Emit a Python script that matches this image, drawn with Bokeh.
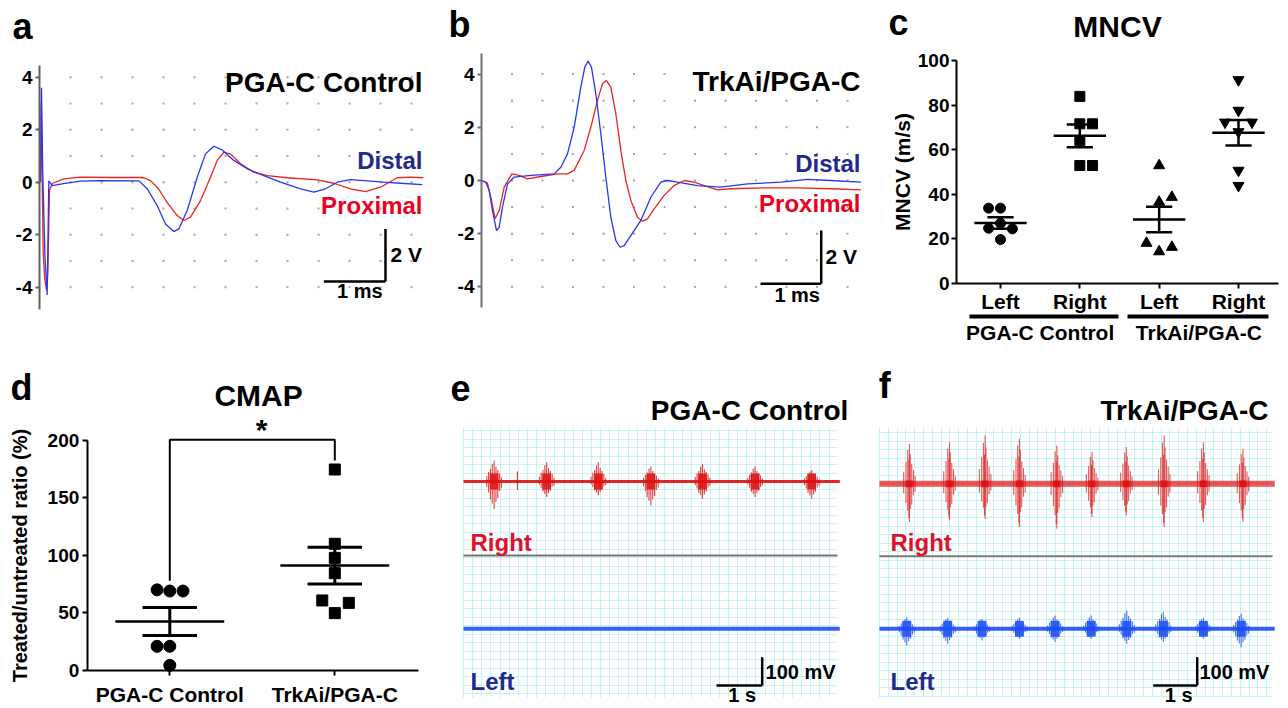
import numpy as np
from bokeh.plotting import figure
from bokeh.models import Range1d, FixedTicker, SingleIntervalTicker, Grid, Label, LinearAxis
from bokeh.layouts import row, column
from bokeh.embed import file_html
from bokeh.resources import INLINE

FONT = "Liberation Sans"

# ---------------- data: panel a (time ms, voltage V) ----------------
a_distal_t = [0.016, 0.032, 0.053, 0.089, 0.124, 0.150, 0.205, 0.387, 0.661, 0.984, 1.602, 1.737, 1.898, 2.032,
              2.166, 2.247, 2.382, 2.544, 2.677, 2.811, 2.947, 3.134, 3.350, 3.618, 3.887, 4.210, 4.424, 4.613,
              4.802, 5.016, 5.285, 5.553, 5.823, 6.173]
a_distal_v = [0.0, 3.6, 0.3, -2.9, -4.3, 0.05, -0.13, -0.05, 0.04, 0.06, 0.05, -0.25, -0.89, -1.59, -1.88, -1.78,
              -1.08, 0.19, 1.08, 1.37, 1.23, 0.83, 0.51, 0.25, 0.0, -0.25, -0.38, -0.25, 0.0, 0.1, 0.05, 0.0,
              -0.04, -0.09]
a_prox_t = [0.016, 0.027, 0.060, 0.085, 0.113, 0.134, 0.161, 0.205, 0.392, 0.661, 1.198, 1.629, 1.682, 1.790,
            1.919, 2.065, 2.221, 2.327, 2.435, 2.597, 2.758, 2.866, 2.973, 3.081, 3.242, 3.456, 3.673, 3.995,
            4.479, 4.747, 5.016, 5.258, 5.500, 5.769, 5.984, 6.189]
a_prox_v = [0.0, 3.05, -2.72, -3.67, -4.1, -3.48, -0.32, -0.05, 0.13, 0.19, 0.18, 0.18, 0.17, 0.06, -0.25, -0.8,
            -1.27, -1.46, -1.33, -0.70, 0.19, 0.83, 1.14, 1.08, 0.70, 0.38, 0.25, 0.17, 0.09, -0.04, -0.25, -0.36,
            -0.19, 0.17, 0.19, 0.17]

# ---------------- data: panel b ----------------
b_distal_t = [0.0, 0.071, 0.126, 0.180, 0.246, 0.290, 0.344, 0.426, 0.536, 0.809, 1.191, 1.301, 1.410, 1.519,
              1.628, 1.694, 1.749, 1.803, 1.874, 1.956, 2.038, 2.120, 2.202, 2.273, 2.339, 2.448, 2.612, 2.776,
              2.940, 3.049, 3.213, 3.541, 3.923, 4.361, 4.907, 5.344, 5.727, 6.219]
b_distal_v = [0.0, -0.06, -0.38, -1.13, -1.88, -1.76, -1.0, -0.13, 0.13, 0.19, 0.25, 0.5, 1.0, 2.0, 3.51, 4.26,
              4.49, 4.26, 3.26, 1.76, 0.13, -1.38, -2.26, -2.51, -2.45, -2.07, -1.50, -0.63, -0.06, 0.0, -0.06,
              -0.19, -0.25, -0.13, -0.06, 0.04, 0.0, -0.06]
b_prox_t = [0.0, 0.098, 0.164, 0.224, 0.290, 0.372, 0.497, 0.617, 0.754, 0.973, 1.246, 1.410, 1.519, 1.683,
            1.792, 1.902, 1.984, 2.049, 2.120, 2.202, 2.284, 2.366, 2.448, 2.557, 2.639, 2.721, 2.831, 2.995,
            3.158, 3.322, 3.486, 3.650, 3.869, 4.087, 4.634, 5.180, 5.727, 6.219]
b_prox_v = [0.0, -0.1, -0.75, -1.44, -1.13, -0.25, 0.25, 0.19, 0.06, 0.15, 0.25, 0.25, 0.38, 1.13, 2.0, 3.01,
            3.64, 3.76, 3.51, 2.51, 1.13, 0.0, -0.75, -1.38, -1.53, -1.44, -1.07, -0.56, -0.19, 0.0, -0.06,
            -0.19, -0.35, -0.31, -0.28, -0.28, -0.31, -0.35]

# ---------------- data: panel c (MNCV, m/s) ----------------
c_tick_labels = ["Left", "Right", "Left", "Right"]
c_group_labels = ["PGA-C Control", "TrkAi/PGA-C"]
c_pga_left = [33.8, 33.8, 27.0, 24.8, 24.5, 19.7]
c_pga_left_dx = [-0.15, 0.0, 0.0, -0.15, 0.15, 0.0]
c_pga_right = [83.9, 71.6, 71.6, 64.0, 52.9, 52.9]
c_pga_right_dx = [0.0, 0.0, 0.16, 0.0, 0.0, 0.16]
c_trk_left = [52.9, 38.7, 36.5, 18.1, 14.3, 16.3]
c_trk_left_dx = [0.0, 0.16, 0.0, -0.16, 0.0, 0.16]
c_trk_right = [91.3, 77.6, 72.3, 72.3, 68.0, 50.7, 43.9]
c_trk_right_dx = [0.0, 0.0, -0.17, 0.17, 0.0, 0.0, 0.0]
c_means = [27.1, 66.2, 28.7, 67.6]
c_sems = [2.6, 5.1, 5.7, 5.7]

# ---------------- data: panel d (CMAP, %) ----------------
d_tick_labels = ["PGA-C Control", "TrkAi/PGA-C"]
d_pga = [70.0, 69.0, 69.0, 21.0, 21.0, 4.5]
d_pga_dx = [-0.077, 0.0, 0.08, -0.077, 0.0, 0.0]
d_trk = [174.5, 110.0, 97.8, 84.5, 60.8, 58.7, 49.8]
d_trk_dx = [0.0, 0.0, 0.0, 0.0, -0.076, 0.085, 0.0]
d_means = [42.5, 91.1]
d_sems = [12.1, 15.9]

# ---------------- data: panels e/f (EMG bursts: time s, amplitude mV) ----------------
e_right_t = [0.67, 1.82, 2.95, 4.10, 5.23, 6.38, 7.62]
e_right_up = [74, 68, 68, 53, 62, 53, 41]
e_right_down = [97, 55, 49, 85, 61, 55, 61]
e_right_spike_t = [1.18]
e_right_spike_up = [35]
e_right_spike_down = [29]

f_right_t = [0.68, 1.59, 2.40, 3.18, 4.03, 4.83, 5.61, 6.47, 7.36, 8.26]
f_right_up = [141, 147, 171, 159, 135, 112, 130, 171, 147, 124]
f_right_down = [135, 130, 124, 153, 159, 118, 112, 153, 135, 135]
f_left_t = [0.62, 1.55, 2.33, 3.18, 3.99, 4.81, 5.62, 6.45, 7.36, 8.22]
f_left_up = [41, 39, 35, 39, 47, 47, 65, 59, 39, 53]
f_left_down = [59, 53, 41, 35, 47, 35, 53, 47, 35, 65]

# ---------------- styles ----------------
RED = "#ee2222"
BLUE = "#2a35f0"
NAVY = "#1f2a8c"
LRED = "#e8001e"
EMG_RED = "#dd1111"
EMG_BLUE = "#1d4ff5"
GRIDC = "#c6f2f6"
BASE_SHIFT = 0.35   # visual correction for alphabetic baseline, in font-size units


def base_fig(w, h, xr, yr, **kw):
    p = figure(width=w, height=h, x_range=Range1d(*xr), y_range=Range1d(*yr),
               output_backend="svg", toolbar_location=None,
               min_border_left=0, min_border_right=0, min_border_top=0, min_border_bottom=0, **kw)
    p.outline_line_color = None
    p.background_fill_color = "white"
    p.border_fill_color = "white"
    p.xgrid.visible = False
    p.ygrid.visible = False
    return p


def style_axis(ax, size, color="black", lw=2, tick_out=5, standoff=3):
    ax.major_label_text_font = FONT
    ax.major_label_text_font_style = "bold"
    ax.major_label_text_font_size = size
    ax.major_label_text_color = "black"
    ax.axis_line_color = color
    ax.axis_line_width = lw
    ax.major_tick_line_color = color
    ax.major_tick_line_width = lw
    ax.major_tick_in = 0
    ax.major_tick_out = tick_out
    ax.minor_tick_line_color = None
    ax.major_label_standoff = standoff
    ax.axis_label_text_font = FONT
    ax.axis_label_text_font_style = "bold"
    ax.axis_label_text_color = "black"


def texter(p, ppu):
    def txt(x, y, text, size, color="black", align="left"):
        p.add_layout(Label(x=x, y=y + BASE_SHIFT * size / ppu, text=text, text_font=FONT,
                           text_font_style="bold", text_font_size=f"{size}px", text_color=color,
                           text_align=align, text_baseline="alphabetic"))
    return txt


def dot_grid(p):
    gx, gy = np.meshgrid(np.arange(0.5, 6.01, 0.5), np.arange(-4, 4.01, 1.0))
    p.scatter(gx.ravel(), gy.ravel(), marker="square", size=2, color="#a5a5a5", line_color=None)


VOLT_TICKS = [-4, -2, 0, 2, 4]
VOLT_LABELS = {t: str(t) for t in VOLT_TICKS}

# ================= panel a =================
pa = base_fig(430, 350, (-0.629, 6.306), (-6.411, 6.922), x_axis_location=None)
ya = pa.yaxis[0]
style_axis(ya, "19px", color="#606060", lw=2, tick_out=4, standoff=3)
ya.ticker = FixedTicker(ticks=VOLT_TICKS)
ya.major_label_overrides = VOLT_LABELS
ya.fixed_location = 0
ya.bounds = (-4.84, 4.46)
dot_grid(pa)
pa.line(a_prox_t, a_prox_v, color=RED, line_width=1.3)
pa.line(a_distal_t, a_distal_v, color=BLUE, line_width=1.3)
ta = texter(pa, 26.25)
ta(-0.435, 5.47, "a", 36)
ta(6.177, 3.43, "PGA-C Control", 28, align="right")
ta(6.177, 0.51, "Distal", 24, color=NAVY, align="right")
ta(6.177, -1.2, "Proximal", 24, color=LRED, align="right")
pa.segment(x0=[4.586, 5.58], y0=[-3.78, -3.78], x1=[5.58, 5.58], y1=[-3.78, -1.78], color="black", line_width=2.5)
ta(5.66, -3.05, "2 V", 21)
ta(5.166, -4.42, "1 ms", 20, align="center")

# ================= panel b =================
pb = base_fig(440, 350, (-0.836, 6.377), (-6.391, 6.767), x_axis_location=None)
yb = pb.yaxis[0]
style_axis(yb, "19px", color="#707070", lw=2, tick_out=4, standoff=3)
yb.ticker = FixedTicker(ticks=VOLT_TICKS)
yb.major_label_overrides = VOLT_LABELS
yb.fixed_location = 0
yb.bounds = (-4.77, 4.77)
dot_grid(pb)
pb.line(b_prox_t, b_prox_v, color=RED, line_width=1.3)
pb.line(b_distal_t, b_distal_v, color=BLUE, line_width=1.3)
tb = texter(pb, 26.6)
tb(-0.54, 5.38, "b", 36)
tb(6.213, 3.36, "TrkAi/PGA-C", 28, align="right")
tb(6.213, 0.31, "Distal", 24, color=NAVY, align="right")
tb(6.213, -1.19, "Proximal", 24, color=LRED, align="right")
pb.segment(x0=[4.574, 5.569], y0=[-3.88, -3.88], x1=[5.569, 5.569], y1=[-3.88, -1.88], color="black", line_width=2.5)
tb(5.64, -3.13, "2 V", 21)
tb(5.175, -4.57, "1 ms", 20, align="center")

# ================= panel c =================
pc = base_fig(418, 350, (-0.6387, 4.6304), (-30.04, 126.9))
xc = pc.xaxis[0]
yc = pc.yaxis[0]
style_axis(xc, "21px", tick_out=5, standoff=1)
style_axis(yc, "19px", tick_out=5, standoff=2)
xc.ticker = FixedTicker(ticks=[1, 2, 3, 4])
xc.major_label_overrides = {i + 1: lab for i, lab in enumerate(c_tick_labels)}
xc.fixed_location = 0
xc.bounds = (0.445, 4.504)
yc.ticker = FixedTicker(ticks=[0, 20, 40, 60, 80, 100])
yc.fixed_location = 0.445
yc.bounds = (0, 100)
yc.axis_label = "MNCV (m/s)"
yc.axis_label_text_font_size = "21px"
yc.axis_label_standoff = 1

xg = LinearAxis(ticker=FixedTicker(ticks=[1.5, 3.5]),
                major_label_overrides={1.5: c_group_labels[0], 3.5: c_group_labels[1]})
style_axis(xg, "21px", tick_out=0, standoff=2)
xg.axis_line_color = None
xg.major_tick_line_color = None
xg.fixed_location = -16.1
pc.add_layout(xg, "below")

c_sets = [(c_pga_left, c_pga_left_dx, "circle", 10),
          (c_pga_right, c_pga_right_dx, "square", 10),
          (c_trk_left, c_trk_left_dx, "triangle", 11),
          (c_trk_right, c_trk_right_dx, "inverted_triangle", 11)]
for i, (vals, dx, mk, sz) in enumerate(c_sets):
    pc.scatter([i + 1 + d for d in dx], vals, marker=mk, size=sz, color="black")
cx = np.arange(1, 5)
cm = np.array(c_means)
cs = np.array(c_sems)
pc.segment(x0=cx - 0.33, y0=cm, x1=cx + 0.33, y1=cm, color="black", line_width=2.5)
pc.segment(x0=cx - 0.165, y0=cm + cs, x1=cx + 0.165, y1=cm + cs, color="black", line_width=2.5)
pc.segment(x0=cx - 0.165, y0=cm - cs, x1=cx + 0.165, y1=cm - cs, color="black", line_width=2.5)
pc.segment(x0=cx, y0=cm - cs, x1=cx, y1=cm + cs, color="black", line_width=2.5)
pc.segment(x0=[0.609, 2.601], y0=[-14.8, -14.8], x1=[2.487, 4.378], y1=[-14.8, -14.8], color="black",
           line_width=4, line_cap="butt")
tc = texter(pc, 2.23)
tc(-0.412, 111.2, "c", 36)
tc(2.475, 110.4, "MNCV", 30, align="center")

# ================= panel d =================
pd_ = base_fig(440, 358, (-0.0261, 2.6406), (-32.99, 277.8))
xd = pd_.xaxis[0]
yd = pd_.yaxis[0]
style_axis(xd, "21px", tick_out=5, standoff=8)
style_axis(yd, "19px", tick_out=5, standoff=3)
xd.ticker = FixedTicker(ticks=[1, 2])
xd.major_label_overrides = {1: d_tick_labels[0], 2: d_tick_labels[1]}
xd.fixed_location = 0
xd.bounds = (0.5, 2.507)
yd.ticker = FixedTicker(ticks=[0, 50, 100, 150, 200])
yd.fixed_location = 0.5
yd.bounds = (0, 200)
yd.axis_label = "Treated/untreated ratio (%)"
yd.axis_label_text_font_size = "20px"
yd.axis_label_standoff = 14
pd_.scatter([1 + d for d in d_pga_dx], d_pga, marker="circle", size=12, color="black")
pd_.scatter([2 + d for d in d_trk_dx], d_trk, marker="square", size=11, color="black")
dx_ = np.array([1, 2])
dm = np.array(d_means)
ds = np.array(d_sems)
pd_.segment(x0=dx_ - 0.33, y0=dm, x1=dx_ + 0.33, y1=dm, color="black", line_width=2.5)
pd_.segment(x0=dx_ - 0.165, y0=dm + ds, x1=dx_ + 0.165, y1=dm + ds, color="black", line_width=3)
pd_.segment(x0=dx_ - 0.165, y0=dm - ds, x1=dx_ + 0.165, y1=dm - ds, color="black", line_width=3)
pd_.segment(x0=dx_, y0=dm - ds, x1=dx_, y1=dm + ds, color="black", line_width=3)
pd_.line([1, 1, 2, 2], [78, 200.3, 200.3, 182.3], color="black", line_width=2)
td = texter(pd_, 1.152)
td(1.556, 200, "*", 30, align="center")
td(1.538, 230, "CMAP", 30, align="center")
td(0.035, 234.4, "d", 36)


# ================= EMG helpers =================
BLOB_POS = [-1.0, -0.75, -0.5, -0.25, 0.0, 0.25, 0.5, 0.75, 1.0]
BLOB_UP = [0.25, 0.45, 0.6, 0.85, 1.0, 0.7, 0.55, 0.4, 0.2]
BLOB_DN = [0.2, 0.4, 0.65, 0.8, 1.0, 0.75, 0.6, 0.35, 0.25]
SPIKY_POS = [-1.0, -0.6, -0.3, -0.1, 0.0, 0.15, 0.4, 0.7, 1.0]
SPIKY_UP = [0.3, 0.55, 0.85, 0.6, 1.0, 0.75, 0.5, 0.35, 0.2]
SPIKY_DN = [0.25, 0.5, 0.7, 0.9, 1.0, 0.65, 0.55, 0.3, 0.2]
HAS_CROSS = "cross_bounds" in Grid.properties()


def emg_grid(p, xb, yb):
    if HAS_CROSS:
        p.add_layout(Grid(dimension=0, ticker=SingleIntervalTicker(interval=0.2), bounds=xb, cross_bounds=yb,
                          grid_line_color=GRIDC, grid_line_width=1))
        p.add_layout(Grid(dimension=1, ticker=SingleIntervalTicker(interval=30), bounds=yb, cross_bounds=xb,
                          grid_line_color=GRIDC, grid_line_width=1))
    else:
        vx = np.arange(0, xb[1] + 1e-9, 0.2)
        hy = np.arange(np.ceil(yb[0] / 30) * 30, yb[1] + 1e-9, 30)
        p.segment(x0=vx, y0=yb[0], x1=vx, y1=yb[1], color=GRIDC, line_width=1)
        p.segment(x0=xb[0], y0=hy, x1=xb[1], y1=hy, color=GRIDC, line_width=1)


def emg_channel(p, xb, base, ts, ups, downs, halfw, body, color, band_w, band_alpha,
                template=(BLOB_POS, BLOB_UP, BLOB_DN), spike_alpha=0.8):
    p.line([xb[0], xb[1] + 0.05], [base, base], color=color, line_width=band_w, alpha=band_alpha)
    if ts:
        p.quad(left=[t - halfw * 0.6 for t in ts], right=[t + halfw * 0.6 for t in ts],
               bottom=base - body, top=base + body, color=color, alpha=0.85, line_color=None)
        x0, y0, y1 = [], [], []
        for t, u, d in zip(ts, ups, downs):
            for sp, fu, fd in zip(*template):
                x0.append(t + sp * halfw)
                y0.append(base - d * fd)
                y1.append(base + u * fu)
        p.segment(x0=x0, y0=y0, x1=x0, y1=y1, color=color, line_width=1.1, alpha=spike_alpha)


# ================= panel e =================
pe = base_fig(420, 358, (-0.503, 8.687), (-802.2, 463.0), x_axis_location=None, y_axis_location=None)
e_xb, e_yb = (0, 8.184), (-763.3, 190.8)
emg_grid(pe, e_xb, e_yb)
e_blue_base = -520.6
e_sep = -261.5
pe.segment(x0=[0], y0=[e_sep], x1=[8.184], y1=[e_sep], color="#777777", line_width=2)
emg_channel(pe, e_xb, 0, e_right_t, e_right_up, e_right_down, 0.16, 28, EMG_RED, 3, 0.9)
pe.segment(x0=e_right_spike_t, y0=[-d for d in e_right_spike_down], x1=e_right_spike_t, y1=e_right_spike_up,
           color=EMG_RED, line_width=1.2, alpha=0.8)
emg_channel(pe, e_xb, e_blue_base, [], [], [], 0.16, 28, EMG_BLUE, 4, 0.9)
te = texter(pe, 1 / 3.534)
te(-0.284, 286.3, "e", 36)
te(8.42, 215.6, "PGA-C Control", 28, align="right")
te(0.153, -243.8, "Right", 24, color="#e0102a")
te(0.153, -736.2, "Left", 24, color=NAVY)
pe.segment(x0=[5.536, 6.536], y0=[-720.9, -720.9], x1=[6.536, 6.536], y1=[-720.9, -620.9], color="black",
           line_width=2.5)
te(6.61, -697.3, "100 mV", 20)
te(6.1, -777.5, "1 s", 20, align="center")

# ================= panel f =================
pf = base_fig(428, 358, (-0.432, 9.295), (-794.1, 471.1), x_axis_location=None, y_axis_location=None)
f_xb, f_yb = (0, 8.932), (-755.2, 199.0)
emg_grid(pf, f_xb, f_yb)
f_blue_base = -512.4
f_sep = -255.9
pf.segment(x0=[0], y0=[f_sep], x1=[8.932], y1=[f_sep], color="#777777", line_width=2)
emg_channel(pf, f_xb, 0, f_right_t, f_right_up, f_right_down, 0.13, 12, EMG_RED, 6, 0.7,
            template=(SPIKY_POS, SPIKY_UP, SPIKY_DN), spike_alpha=0.7)
emg_channel(pf, f_xb, f_blue_base, f_left_t, f_left_up, f_left_down, 0.17, 28, EMG_BLUE, 4, 0.9)
tf = texter(pf, 1 / 3.534)
tf(-0.02, 301.5, "f", 36)
tf(8.84, 223.7, "TrkAi/PGA-C", 28, align="right")
tf(0.25, -235.7, "Right", 24, color="#e0102a")
tf(0.25, -728, "Left", 24, color=NAVY)
pf.segment(x0=[6.22, 7.22], y0=[-712.8, -712.8], x1=[7.22, 7.22], y1=[-712.8, -612.8], color="black",
           line_width=2.5)
tf(7.27, -689, "100 mV", 20)
tf(6.8, -769.5, "1 s", 20, align="center")

layout = column(row(pa, pb, pc), row(pd_, pe, pf))
open("out.html", "w").write(file_html(layout, INLINE))
